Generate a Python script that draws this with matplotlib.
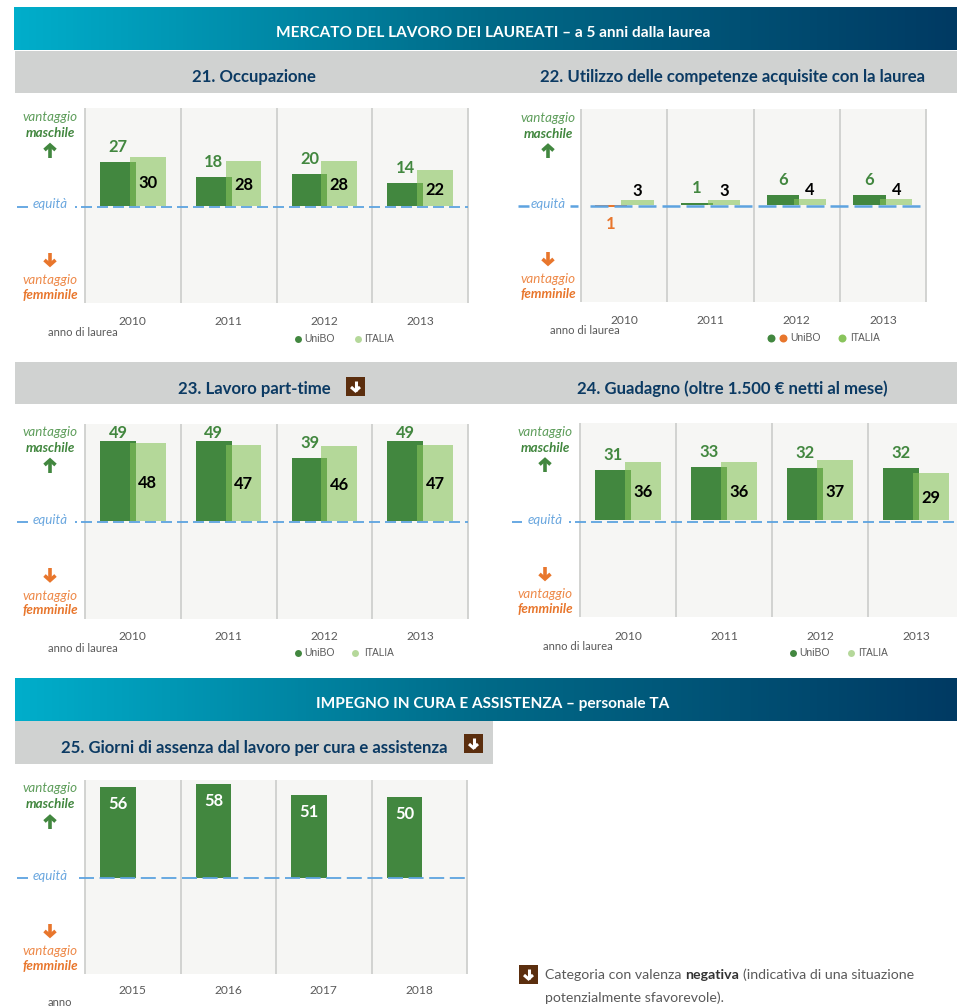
import matplotlib
matplotlib.use("Agg")
import matplotlib.pyplot as plt
import numpy as np
from matplotlib.patches import Rectangle
from matplotlib.colors import LinearSegmentedColormap

FONT = 'Lato'
plt.rcParams['font.family'] = [FONT, 'DejaVu Sans']

years_a = ['2010', '2011', '2012', '2013']
years_b = ['2015', '2016', '2017', '2018']
occ_unibo = [27, 18, 20, 14]
occ_italia = [30, 28, 28, 22]
comp_unibo = [-1, 1, 6, 6]
comp_italia = [3, 3, 4, 4]
part_unibo = [49, 49, 39, 49]
part_italia = [48, 47, 46, 47]
gain_unibo = [31, 33, 32, 32]
gain_italia = [36, 36, 37, 29]
care_unibo = [56, 58, 51, 50]

DARK = '#42873F'
ITA = '#89C45C'
ITA_SOLID = '#B5D89A'
ORANGE = '#E8762C'
BLUE = '#5DA3E0'
NAVY = '#0B3A63'
GREY = '#5A5A5A'
BROWN = '#5B2E0E'
PXU = 1.62
W, H = 957, 1007

fig = plt.figure(figsize=(W/100, H/100), dpi=100, facecolor='white')
ov = fig.add_axes([0, 0, 1, 1], zorder=10)
ov.set_xlim(0, W); ov.set_ylim(H, 0); ov.axis('off'); ov.patch.set_alpha(0)
px = 0.72

def T(x, y, s, size, color=GREY, weight='normal', style='normal', ha='center', va='center', family=None):
    return ov.text(x, y, s, fontsize=size*px, color=color, fontweight=weight, fontstyle=style,
                   ha=ha, va=va, family=family or [FONT, 'DejaVu Sans'])

def arrow(x, y, d, color, h=13, w=11, lw=2.6):
    """d=+1 points up on screen, d=-1 down; (x, y) is the centre."""
    tip = y - d*h/2
    tail = y + d*h/2
    ov.plot([x, x], [tail, tip + d*1], color=color, lw=lw, solid_capstyle='butt', zorder=7)
    ov.plot([x-w/2, x, x+w/2], [tip + d*w/2, tip + d*0.6, tip + d*w/2], color=color, lw=lw,
            solid_capstyle='butt', solid_joinstyle='miter', zorder=7)

cmap = LinearSegmentedColormap.from_list('h', ['#00AECB', '#006A88', '#003A63'])
def header(x0, y0, y1, cy, s):
    ov.imshow(np.linspace(0, 1, 256).reshape(1, -1), extent=(x0, W, y1, y0), cmap=cmap, aspect='auto', zorder=1)
    T(493, cy, s, 15.4, color='white', weight='bold')

def band(x0, x1, y0, y1):
    ov.add_patch(Rectangle((x0, y0), x1-x0, y1-y0, fc='#D0D2D1', ec='none', zorder=1))

def icon(x, y):
    ov.add_patch(Rectangle((x, y), 19, 19, fc=BROWN, ec='none', zorder=2))
    arrow(x+9.5, y+9, -1, 'white', h=11, w=9, lw=2.2)

header(14, 7, 50, 33, 'MERCATO DEL LAVORO DEI LAUREATI – a 5 anni dalla laurea')
band(15, W, 51, 93)
band(15, W, 362, 404)
header(15, 678, 721, 704, 'IMPEGNO IN CURA E ASSISTENZA – personale TA')
ov.set_xlim(0, W); ov.set_ylim(H, 0)
band(15, 493, 721, 764)

for cx, cy, s in [(254, 77, '21. Occupazione'), (732, 77, '22. Utilizzo delle competenze acquisite con la laurea'),
                  (254, 389, '23. Lavoro part-time'), (732, 389, '24. Guadagno (oltre 1.500 € netti al mese)'),
                  (254, 748, '25. Giorni di assenza dal lavoro per cura e assistenza')]:
    T(cx, cy, s, 16.7, color=NAVY, weight='bold')
icon(346, 377); icon(464, 734)


def panel(l, r, t, b, zero, dash_y, years, unibo, italia, dash, cap_x, tick_y, anno_xy, anno='anno di laurea', legend=None,
          dash_segs=None, small=False, dash_lw=1.3):
    ax = fig.add_axes([l/W, 1-b/H, (r-l)/W, (b-t)/H], zorder=2)
    ax.set_facecolor('#F6F6F4')
    ax.set_xlim(0, 4)
    ax.set_ylim((zero-b)/PXU, (zero-t)/PXU)
    for s in ax.spines.values():
        s.set_visible(False)
    ax.set_xticks([]); ax.set_yticks([])
    ax.vlines(range(5), *ax.get_ylim(), color='#CBCCCA', lw=1.2, zorder=1, clip_on=False)
    x = np.arange(4) + 0.5
    colors = [ORANGE if v < 0 else DARK for v in unibo]
    ax.bar(x-0.155, unibo, 0.375, color=colors, zorder=2)
    if italia is not None:
        ax.bar(x+0.155, italia, 0.375, color=ITA, alpha=0.6, zorder=3)
    fs = 16.5*px
    for i, v in enumerate(unibo):
        vx = x[i]-0.155
        if italia is None:
            ax.annotate(str(v), (vx, v), xytext=(0, -17*px), textcoords='offset points', ha='center', va='center',
                        color='white', fontsize=fs, fontweight='bold', zorder=5)
        elif v < 0:
            ax.annotate(str(abs(v)), (vx, v), xytext=(0, -17*px), textcoords='offset points', ha='center', va='center',
                        color=ORANGE, fontsize=fs, fontweight='bold', zorder=5)
        else:
            ypx = max(zero - v*PXU - 15, t + 9)
            ax.annotate(str(v), (vx, (zero-ypx)/PXU), ha='center', va='center',
                        color=DARK, fontsize=fs, fontweight='bold', zorder=5)
    if italia is not None:
        for i, v in enumerate(italia):
            vx = x[i]+0.155
            if small:
                ax.annotate(str(v), (vx, v), xytext=(0, 9*px), textcoords='offset points', ha='center', va='center',
                            color='black', fontsize=fs, fontweight='bold', zorder=5)
            else:
                ax.annotate(str(v), (vx, v/2), xytext=(0, -1.5*px), textcoords='offset points', ha='center', va='center',
                            color='black', fontsize=fs, fontweight='bold', zorder=5)
    # equity line
    for a, c in dash_segs:
        ov.plot([a, c], [dash_y, dash_y], color=BLUE, lw=dash_lw, solid_capstyle='butt', zorder=6)
    ov.plot([dash[0], dash[1]], [dash_y, dash_y], color=BLUE, lw=dash_lw, zorder=6,
            dashes=(dash[2]*px/dash_lw, dash[3]*px/dash_lw), dash_capstyle='butt')
    # captions
    T(cap_x, t+8.5, 'vantaggio', 13.4, color='#5F9E5C', style='italic')
    T(cap_x, t+24.5, 'maschile', 13.4, color=DARK, style='italic', weight='bold')
    arrow(cap_x, t+42.5, 1, DARK)
    T(cap_x, dash_y-2, 'equità', 13.4, color='#6AA7DF', style='italic')
    arrow(cap_x, b-44, -1, ORANGE)
    T(cap_x, b-23, 'vantaggio', 13.4, color='#EE8A4A', style='italic')
    T(cap_x, b-8, 'femminile', 13.4, color=ORANGE, style='italic', weight='bold')
    cw = (r-l)/4
    for i, y in enumerate(years):
        T(l+(i+0.5)*cw, tick_y, y, 12)
    T(anno_xy[0], anno_xy[1], anno, 11.2, ha='left')
    if legend:
        ly, dots, ux, ix, itxt = legend
        for dx, col in dots:
            ov.scatter([dx], [ly], s=33 if len(dots) == 3 else 25, color=col, zorder=6, linewidths=0)
        T(ux, ly, 'UniBO', 10.4, ha='left', family='Liberation Sans')
        T(itxt, ly, 'ITALIA', 10, ha='left', family='Liberation Sans')
    return ax

panel(85, 468, 108.5, 303, 206, 206.5, years_a, occ_unibo, occ_italia, (81, 468, 11, 5), 50, 321.5, (48, 333),
      legend=(339, [(298, DARK), (358, ITA_SOLID)], 304, 0, 364), dash_segs=[(17, 28), (75, 76.5)])
panel(581, 926, 109, 302, 205, 205.5, years_a, comp_unibo, comp_italia, (590, 921, 18, 6), 548, 320.5, (550, 331),
      legend=(338, [(771, DARK), (783, ORANGE), (842, ITA)], 790, 0, 850), dash_segs=[(518, 529), (570, 578)],
      small=True, dash_lw=1.8)
panel(85, 468, 423.5, 618.5, 520.7, 521.5, years_a, part_unibo, part_italia, (81, 468, 11, 5), 50, 636, (48, 648),
      legend=(653, [(298, DARK), (355, ITA_SOLID)], 304, 0, 364), dash_segs=[(17, 28), (75, 76.5)])
panel(580, 964, 423, 617, 520, 522, years_a, gain_unibo, gain_italia, (575, 957, 11, 5), 545, 636, (543, 647),
      legend=(653, [(793, DARK), (851, ITA_SOLID)], 799, 0, 858), dash_segs=[(512, 522), (569, 570.5)])
panel(85, 467, 780, 974, 878, 878, years_b, care_unibo, None, (79, 467, 15, 5.6), 50, 991, (48, 1003), anno='anno',
      dash_segs=[(17, 28)])

# footer note
icon(519, 965)
fig.canvas.draw()
rend = fig.canvas.get_renderer()
FS = 14.1
t1 = T(545, 975, 'Categoria con valenza', FS, ha='left')
inv = ov.transData.inverted()
def right(tt):
    return inv.transform(tt.get_window_extent(rend))[1][0]
t2 = T(right(t1)+4, 975, 'negativa', FS, ha='left', weight='bold', color='#333333')
t3 = T(right(t2)+4, 975, '(indicativa di una situazione', FS, ha='left')
T(545, 998, 'potenzialmente sfavorevole).', FS, ha='left')

fig.savefig('out.png', dpi=100)
